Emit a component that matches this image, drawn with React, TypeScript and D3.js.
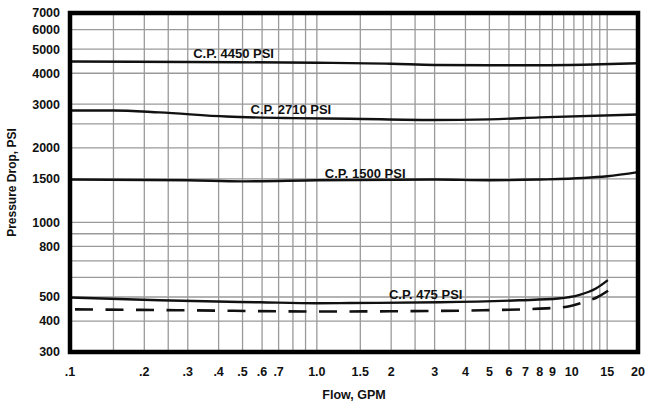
import React from "react";
import * as d3 from "d3";

const xTickValues = [0.1, 0.2, 0.3, 0.4, 0.5, 0.6, 0.7, 1, 1.5, 2, 3, 4, 5, 6, 7, 8, 9, 10, 15, 20];
const xTickLabels = [".1", ".2", ".3", ".4", ".5", ".6", ".7", "1.0", "1.5", "2", "3", "4", "5", "6", "7", "8", "9", "10", "15", "20"];
const xGridValues = [0.15, 0.2, 0.25, 0.3, 0.4, 0.5, 0.6, 0.7, 0.8, 0.9, 1, 1.5, 2, 2.5, 3, 4, 5, 6, 7, 8, 9, 10, 11, 12, 13, 14, 15];
const yTickValues = [300, 400, 500, 800, 1000, 1500, 2000, 3000, 4000, 5000, 6000, 7000];
const yGridValues = [400, 500, 600, 700, 800, 900, 1000, 1500, 2000, 2500, 3000, 4000, 5000, 6000];

const cp4450Flow = [0.1, 0.3, 1, 2, 3, 5, 8, 12, 20];
const cp4450Drop = [4460, 4440, 4410, 4370, 4320, 4310, 4310, 4330, 4390];

const cp2710Flow = [0.1, 0.15, 0.23, 0.43, 0.8, 1.36, 2.9, 5, 8, 20];
const cp2710Drop = [2830, 2830, 2780, 2675, 2635, 2620, 2590, 2605, 2655, 2725];

const cp1500Flow = [0.1, 0.3, 0.5, 1, 3, 5, 8, 12, 15, 20];
const cp1500Drop = [1490, 1480, 1465, 1480, 1490, 1480, 1490, 1510, 1535, 1595];

const cp475Flow = [0.1, 0.23, 0.59, 1, 1.36, 3.15, 6.6, 9.5, 11.6, 13.5, 15.1];
const cp475Drop = [498, 485, 476, 472, 473, 476, 485, 493, 510, 541, 585];

const dashedFlow = [0.1, 0.3, 1, 2, 4.7, 8.5, 10.3, 11.9, 13.6, 15.6];
const dashedDrop = [446, 442, 437, 438, 442, 450, 457, 475, 498, 541];

const seriesLabels = ["C.P. 4450 PSI", "C.P. 2710 PSI", "C.P. 1500 PSI", "C.P. 475 PSI"];
const labelAnchorFlow = [0.46, 0.785, 1.57, 2.76];

const W = 645;
const H = 407;
const left = 70, right = 638, top = 13, bottom = 352;
const FONT = "'Liberation Sans', Arial, Helvetica, sans-serif";

export default function App() {
  const x = d3.scaleLog().domain([0.1, 20]).range([left, right]);
  const y = d3.scaleLog().domain([300, 7000]).range([bottom, top]);
  const line = d3
    .line<[number, number]>()
    .x((d) => x(d[0]))
    .y((d) => y(d[1]))
    .curve(d3.curveMonotoneX);

  const solid = [
    { flow: cp4450Flow, drop: cp4450Drop },
    { flow: cp2710Flow, drop: cp2710Drop },
    { flow: cp1500Flow, drop: cp1500Drop },
    { flow: cp475Flow, drop: cp475Drop },
  ];
  const zip = (a: number[], b: number[]) => a.map((v, i) => [v, b[i]] as [number, number]);

  const labelY = [58.3, 114, 177.5, 299];

  return (
    <svg
      width={W}
      height={H}
      viewBox={`0 0 ${W} ${H}`}
      style={{ position: "absolute", left: 0, top: 0, background: "#fff" }}
      fontFamily={FONT}
      fontWeight="bold"
    >
      <rect x={0} y={0} width={W} height={H} fill="#fff" />
      <g stroke="#9a9a9a" strokeWidth={1.3}>
        {xGridValues.map((v) => (
          <line key={"xg" + v} x1={x(v)} x2={x(v)} y1={top} y2={bottom} />
        ))}
        {yGridValues.map((v) => (
          <line key={"yg" + v} x1={left} x2={right} y1={y(v)} y2={y(v)} />
        ))}
      </g>
      {solid.map((s, i) => (
        <path key={"s" + i} d={line(zip(s.flow, s.drop)) || ""} fill="none" stroke="#111" strokeWidth={2.4} />
      ))}
      <path
        d={line(zip(dashedFlow, dashedDrop)) || ""}
        fill="none"
        stroke="#111"
        strokeWidth={2.6}
        strokeDasharray="18,12.5"
        strokeDashoffset={25.5}
      />
      {seriesLabels.map((t, i) => (
        <text key={"l" + i} x={x(labelAnchorFlow[i])} y={labelY[i]} fontSize={13} fill="#111" textAnchor="middle">
          {t}
        </text>
      ))}
      <rect x={left} y={top} width={right - left} height={bottom - top} fill="none" stroke="#000" strokeWidth={4.5} />
      {yTickValues.map((v) => (
        <text key={"yt" + v} x={60} y={y(v)} dy="0.35em" fontSize={12.5} textAnchor="end" fill="#111">
          {v}
        </text>
      ))}
      {xTickValues.map((v, i) => (
        <text
          key={"xt" + v}
          x={x(v)}
          dx={v === 10 ? 8 : 0}
          y={376}
          fontSize={12.5}
          textAnchor="middle"
          fill="#111"
        >
          {xTickLabels[i]}
        </text>
      ))}
      <text x={(left + right) / 2} y={399} fontSize={12.5} textAnchor="middle" fill="#111">
        Flow, GPM
      </text>
      <text
        transform={`translate(16, ${(top + bottom) / 2}) rotate(-90)`}
        fontSize={12}
        textAnchor="middle"
        fill="#111"
      >
        Pressure Drop, PSI
      </text>
    </svg>
  );
}
